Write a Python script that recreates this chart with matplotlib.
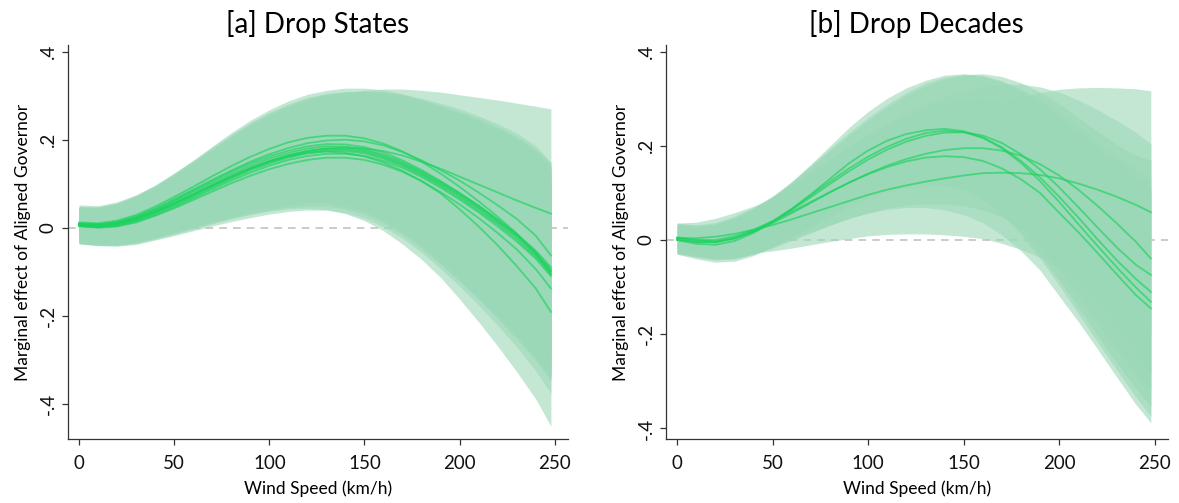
import numpy as np
import matplotlib
matplotlib.use("Agg")
from matplotlib import pyplot as plt

plt.rcParams['font.family'] = ['Lato', 'DejaVu Sans']

# wind speed grid (km/h)
wind = [0, 10, 20, 30, 40, 50, 60, 70, 80, 90, 100, 110, 120, 130, 140, 150,
        160, 170, 180, 190, 200, 210, 220, 230, 240, 248]

# ---- [a] Drop States : point estimates ----
a_est = [
    [.006, .003, .007, .018, .034, .053, .073, .094, .114, .133, .149, .162, .172, .177, .177, .172, .160, .143, .122, .098, .072, .043, .012, -.021, -.062, -.100],
    [.008, .006, .011, .023, .040, .060, .081, .102, .122, .141, .157, .170, .180, .185, .184, .178, .166, .149, .128, .104, .078, .050, .019, -.014, -.052, -.090],
    [.004, .001, .004, .014, .029, .047, .067, .087, .107, .125, .141, .154, .163, .168, .168, .163, .152, .136, .115, .091, .064, .035, .003, -.031, -.070, -.110],
    [.010, .008, .013, .026, .044, .065, .087, .109, .130, .150, .167, .181, .192, .198, .200, .196, .187, .172, .153, .131, .107, .080, .051, .020, -.018, -.063],
    [.006, .004, .009, .020, .036, .055, .075, .096, .116, .135, .151, .164, .174, .180, .182, .180, .174, .164, .150, .134, .116, .098, .080, .062, .045, .032],
    [.003, .000, .003, .012, .027, .044, .063, .082, .101, .118, .133, .145, .154, .159, .159, .154, .143, .127, .106, .081, .053, .022, -.012, -.049, -.094, -.138],
    [.008, .005, .010, .021, .037, .056, .076, .097, .117, .135, .150, .162, .170, .173, .170, .162, .148, .129, .106, .078, .042, .003, -.040, -.087, -.138, -.191],
    [.012, .010, .016, .029, .048, .070, .093, .117, .140, .161, .179, .194, .204, .209, .209, .203, .191, .173, .150, .123, .093, .060, .025, -.013, -.058, -.105],
    [.007, .004, .008, .020, .036, .055, .076, .097, .117, .136, .152, .165, .175, .180, .180, .175, .163, .146, .125, .101, .075, .046, .015, -.018, -.058, -.098],
    [.005, .002, .006, .016, .032, .050, .070, .091, .111, .130, .146, .159, .169, .174, .174, .169, .157, .140, .119, .095, .068, .039, .008, -.026, -.066, -.105],
    [.009, .007, .012, .024, .041, .062, .084, .106, .127, .146, .162, .175, .185, .190, .189, .183, .171, .153, .131, .106, .079, .050, .018, -.016, -.055, -.095],
]
# half-widths of the 95% bands
hw_a_typ = [.040, .041, .045, .050, .055, .062, .070, .078, .087, .095, .102, .108, .114, .119, .125, .132, .141, .151, .162, .174, .186, .198, .210, .221, .231, .238]
hw_a_wide = [.044, .045, .049, .054, .060, .068, .077, .086, .095, .104, .112, .119, .126, .132, .138, .146, .155, .166, .178, .191, .204, .217, .229, .240, .251, .260]
hw_a_narrow = [.036, .037, .040, .044, .048, .054, .060, .068, .076, .083, .089, .094, .099, .103, .108, .114, .122, .131, .141, .152, .163, .174, .185, .195, .204, .211]
a_hw = [hw_a_typ, hw_a_typ, hw_a_typ, hw_a_narrow, hw_a_typ, hw_a_typ, hw_a_wide, hw_a_narrow,
        hw_a_typ, hw_a_typ, hw_a_narrow]

# ---- [b] Drop Decades ----
b_est = [
    [.004, .004, .007, .013, .022, .032, .044, .057, .070, .083, .096, .107, .116, .124, .131, .137, .142, .143, .142, .138, .131, .120, .107, .092, .075, .059],
    [.000, -.004, -.004, .004, .018, .036, .057, .079, .101, .122, .141, .158, .172, .183, .191, .195, .195, .190, .179, .161, .137, .107, .073, .036, -.003, -.039],
    [.002, -.004, -.005, .003, .018, .039, .064, .091, .119, .146, .171, .192, .209, .221, .228, .229, .222, .206, .182, .150, .112, .070, .027, -.015, -.052, -.074],
    [.000, -.008, -.010, -.002, .015, .038, .066, .097, .130, .163, .190, .211, .225, .233, .236, .231, .218, .197, .168, .133, .092, .048, .002, -.042, -.082, -.110],
    [.004, .000, .000, .008, .022, .040, .060, .081, .102, .122, .140, .155, .167, .175, .178, .176, .168, .152, .129, .100, .058, .017, -.027, -.072, -.116, -.145],
    [.006, .000, -.003, .004, .019, .040, .066, .095, .124, .152, .177, .198, .215, .227, .232, .229, .217, .195, .164, .125, .081, .034, -.012, -.057, -.100, -.131],
]
hw_b_typ = [.030, .032, .037, .043, .048, .053, .058, .064, .070, .076, .083, .090, .098, .106, .114, .122, .131, .141, .152, .164, .177, .190, .204, .218, .232, .243]
hw_b_wide = [.032, .034, .039, .045, .050, .055, .061, .067, .073, .080, .087, .095, .103, .111, .120, .129, .139, .150, .162, .175, .189, .203, .217, .231, .246, .258]
b_hw = [hw_b_wide, hw_b_typ, hw_b_typ, hw_b_typ, hw_b_typ, hw_b_typ]

titles = ["[a] Drop States", "[b] Drop Decades"]
xticks = [0, 50, 100, 150, 200, 250]
yticks = [-.4, -.2, 0, .2, .4]
yticklabels = ["-.4", "-.2", "0", ".2", ".4"]

band_col = '#9bd8b7'
line_col = '#1bd25e'

fig = plt.figure(figsize=(11.79, 5.03), dpi=100)
ax_a = fig.add_axes([0.0574, 0.1272, 0.4244, 0.7833])
ax_b = fig.add_axes([0.5646, 0.1266, 0.4261, 0.7839])

panels = [(ax_a, a_est, a_hw, (-0.48, 0.415)), (ax_b, b_est, b_hw, (-0.423, 0.414))]
x = np.array(wind)
for (ax, ests, hws, ylim), title in zip(panels, titles):
    ax.axhline(0, color='#bdbdbd', lw=1.1, ls=(0, (5, 4)), zorder=0)
    for est, hw in zip(ests, hws):
        e = np.array(est)
        h = np.array(hw)
        ax.fill_between(x, e - h, e + h, color=band_col, alpha=0.6, lw=0, zorder=1)
    for est in ests:
        ax.plot(x, est, color=line_col, alpha=0.65, lw=1.3, zorder=2)
    ax.set_xlim(-6, 257)
    ax.set_ylim(*ylim)
    ax.set_xticks(xticks)
    ax.set_yticks(yticks)
    ax.set_yticklabels(yticklabels, rotation=90, va='center')
    ax.spines['top'].set_visible(False)
    ax.spines['right'].set_visible(False)
    for s in ['left', 'bottom']:
        ax.spines[s].set_color('#333333')
        ax.spines[s].set_linewidth(0.9)
    ax.tick_params(direction='out', length=4.5, width=0.9, color='#333333',
                   labelsize=13.5, labelcolor='#111111')
    ax.tick_params(axis='x', pad=7)
    ax.set_xlabel("Wind Speed (km/h)", fontsize=12.5, labelpad=6)
    ax.set_ylabel("Marginal effect of Aligned Governor", fontsize=12.5, labelpad=6)
    ax.set_title(title, fontsize=20, pad=9)

plt.savefig("out.png", dpi=100)
